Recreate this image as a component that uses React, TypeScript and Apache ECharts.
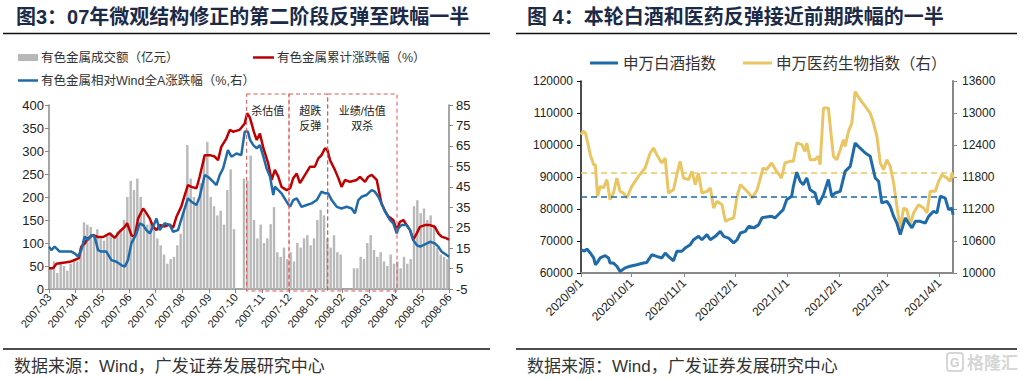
import React, { useEffect, useRef } from 'react';
import * as echarts from 'echarts';

// ---------- Figure 3 data ----------
const monthLabels = ['2007-03','2007-04','2007-05','2007-06','2007-07','2007-08','2007-09','2007-10','2007-11','2007-12','2008-01','2008-02','2008-03','2008-04','2008-05','2008-06'];
const barsPerMonth = 8;
const volume = [
  45, 60, 35, 55, 50, 40, 55, 60,
  60, 90, 145, 140, 135, 120, 130, 110,
  105, 115, 120, 110, 125, 130, 150, 200,
  235, 215, 240, 200, 165, 140, 150, 130,
  110, 95, 75, 55, 65, 70, 95, 120,
  170, 313, 240, 200, 185, 230, 290, 320,
  200, 180, 160, 170, 140, 215, 260, 130,
  0, 0, 240, 235, 290, 150, 110, 140,
  100, 110, 141, 178, 80, 70, 90, 65,
  80, 60, 100, 90, 110, 117, 95, 110,
  150, 172, 160, 110, 90, 117, 80, 75,
  0, 0, 0, 45, 45, 70, 65, 100,
  117, 85, 70, 80, 60, 50, 75, 55,
  60, 45, 70, 55, 65, 180, 193, 165,
  175, 150, 160, 140, 90, 75, 70, 65,
];
const cumReturn = [[0,45],[0.15,45],[0.28,55],[0.53,57],[0.78,59],[0.96,63],[1.12,67],[1.21,92],[1.34,99],[1.46,110],[1.65,117],[1.84,113],[2.03,113],[2.28,121],[2.46,111],[2.65,125],[2.84,135],[2.93,143],[3.09,117],[3.21,113],[3.34,153],[3.53,175],[3.65,165],[3.78,153],[3.9,136],[4.03,128],[4.15,139],[4.34,136],[4.53,140],[4.65,133],[4.78,157],[4.96,179],[5.09,204],[5.21,226],[5.34,222],[5.53,219],[5.65,244],[5.84,291],[6.03,291],[6.21,288],[6.34,280],[6.46,309],[6.65,327],[6.78,346],[6.9,342],[7.15,346],[7.34,360],[7.43,382],[7.53,373],[7.62,355],[7.68,342],[7.79,324],[7.91,338],[8.04,306],[8.22,273],[8.35,237],[8.47,259],[8.6,244],[8.72,222],[8.91,215],[9.04,219],[9.16,241],[9.29,251],[9.41,230],[9.6,248],[9.79,266],[9.97,266],[10.1,284],[10.22,291],[10.35,306],[10.44,302],[10.54,280],[10.72,259],[10.85,241],[10.97,222],[11.1,237],[11.29,233],[11.54,237],[11.66,244],[11.85,233],[11.97,244],[12.1,248],[12.29,237],[12.47,185],[12.6,170],[12.72,158],[12.91,150],[13.04,128],[13.16,146],[13.29,150],[13.41,139],[13.54,128],[13.66,107],[13.79,121],[13.91,135],[14.1,139],[14.29,139],[14.47,135],[14.6,121],[14.72,114],[14.91,110],[15,107]];
const relReturn = [[0,15.7],[0.09,14],[0.21,15.7],[0.28,14.9],[0.4,13.3],[0.65,13.3],[0.84,13.3],[0.96,12.4],[1.09,10.8],[1.21,14],[1.34,20.6],[1.46,18.9],[1.59,21.4],[1.71,20.6],[1.84,14],[1.96,13.3],[2.15,13.3],[2.34,9.1],[2.53,8.3],[2.71,6.7],[2.84,5.9],[2.96,9.1],[3.09,17.3],[3.28,22.2],[3.4,27.1],[3.53,26.3],[3.65,23.8],[3.78,22.2],[3.9,25.5],[4.03,29.5],[4.15,23.8],[4.34,27.1],[4.53,26.3],[4.65,23],[4.84,23.8],[5.03,32],[5.21,39.3],[5.34,37.7],[5.53,36.1],[5.65,40.1],[5.84,50.7],[5.96,49.9],[6.15,47.5],[6.28,45.8],[6.4,50.7],[6.53,54],[6.71,63],[6.84,59.7],[7.03,61.3],[7.21,60.5],[7.34,72],[7.46,72],[7.54,67.9],[7.66,65.4],[7.79,63.8],[7.91,65.4],[8.04,59.7],[8.16,54],[8.29,49.9],[8.41,41],[8.47,45],[8.6,43.4],[8.72,41.8],[8.91,37.7],[9.04,35.2],[9.16,38.5],[9.29,39.3],[9.47,35.2],[9.66,36.1],[9.85,36.9],[10.04,38.5],[10.22,42.6],[10.35,41.8],[10.47,41.8],[10.6,38.5],[10.79,35.2],[10.97,34.4],[11.16,35.2],[11.35,34.4],[11.47,32],[11.6,38.5],[11.72,40.1],[11.91,41],[12.1,43.4],[12.22,42.6],[12.35,40.1],[12.47,36.9],[12.6,32.8],[12.79,28.7],[12.91,27.1],[13.04,22.2],[13.1,24.6],[13.22,26.3],[13.41,26.3],[13.54,23.8],[13.66,18.9],[13.79,16.5],[13.91,15.7],[14.04,16.5],[14.29,18.1],[14.47,17.3],[14.6,15.7],[14.72,13.3],[14.91,11.6],[15,10.8]];
const phaseEdges = [7.41, 9.0, 10.45, 13.05];
const phaseNames = [['杀估值'], ['超跌', '反弹'], ['业绩/估值', '双杀']];

// ---------- Figure 4 data ----------
const tickDates = ['2020/9/1','2020/10/1','2020/11/1','2020/12/1','2021/1/1','2021/2/1','2021/3/1','2021/4/1'];
const endDay = 220;
const baijiu = [[0,67300],[2,66800],[3.5,67500],[5.5,66250],[7.5,64700],[8.5,62600],[9.4,63100],[11.3,64700],[14.3,65400],[16.3,64700],[17.2,63100],[19.2,63100],[21.2,62100],[23.1,60500],[26.1,61600],[29,62100],[33,62600],[36.9,63100],[38.9,63300],[41.9,65700],[44.8,65200],[47.8,64700],[49.8,66250],[51.7,65200],[54.7,63800],[56.7,66800],[59.6,66800],[61.6,67800],[64.6,68850],[66.6,70400],[69.5,71450],[71.5,70400],[74.5,72000],[76.5,70400],[79.4,71450],[82.4,73000],[84.4,71450],[87.3,70900],[90.3,69400],[92.3,70400],[94.3,72500],[97.2,73000],[99.2,74600],[102.2,74100],[105.1,75100],[107.1,77300],[109.7,77500],[112.7,77700],[114.7,77200],[117.6,78750],[119.6,79800],[121.6,82900],[124.6,84000],[125.6,87100],[127.6,91500],[129.6,88650],[131.5,87600],[133.5,89700],[135.5,86000],[138.4,85000],[140.4,81350],[143.4,84500],[146.3,89200],[148.3,84000],[150.3,85000],[153.3,85500],[156.2,91770],[159.2,93300],[162.1,100600],[165.1,99000],[168.1,97500],[171,96500],[174,89700],[176,88650],[177.9,81900],[180.9,82400],[182.9,80800],[184.9,77700],[186.8,75600],[188.8,72000],[191.8,77200],[193.7,75600],[195.7,74100],[197.7,76150],[200.6,76150],[203.6,75600],[205.6,77700],[208.5,79300],[210.5,78750],[212.5,84000],[215.4,83400],[217.4,79800],[219.4,80300],[220,78200]];
const yiyao = [[0,12594],[1.2,12656],[2.6,12625],[4,12437],[5.5,12219],[7.5,12031],[8.5,12031],[9.8,11437],[11.3,11625],[13.3,11594],[15.3,11750],[17.2,11375],[19.2,11500],[21.2,11781],[23.1,11531],[25.1,11500],[27.1,11406],[30,11625],[34,11812],[37.9,11969],[40.9,12250],[42.9,12344],[44.8,12219],[47.8,12062],[49.8,12156],[51.7,11500],[54.7,11562],[56.7,11844],[58.6,12094],[60.6,11781],[63.6,11750],[65.6,11906],[67.6,11656],[69.5,11875],[71.5,11500],[74.5,11531],[76.5,11594],[78.4,11219],[80.4,11344],[83.4,11281],[85.4,10969],[87.3,11000],[90.3,11031],[92.3,11437],[94.3,11656],[96.3,11594],[99.2,11500],[101.2,11406],[104.2,11562],[106.1,11781],[107.7,11969],[109.7,11937],[112.7,12062],[115.7,11906],[118.6,11781],[120.6,12062],[123.6,12094],[125.6,12094],[127.6,12437],[130.6,12406],[132.5,12281],[133.5,12437],[135.5,12125],[138.4,12125],[140.4,12187],[141.4,12031],[143.4,13094],[146.3,13094],[147.7,12656],[149.3,12187],[151.3,12125],[153.3,12312],[155.2,12500],[156.2,12375],[158.2,12656],[160.2,12812],[162.1,13400],[165.1,13250],[168.1,13125],[171,13000],[173,12812],[175,12562],[177,12062],[178.9,11937],[180.9,12125],[182.9,12000],[184.9,11687],[186.8,11250],[188.8,10844],[190.8,11219],[192.7,11187],[194.7,10906],[196.7,11125],[199.6,11281],[202.6,11219],[204.6,11125],[206.5,11531],[209.5,11531],[211.5,11719],[213.5,11844],[216.4,11781],[218.4,11719],[219.4,11875],[220,11781]];
const baijiuRef = 83750;
const baijiuRefEndDay = 212;
const yiyaoRef = 11880;

const RED = '#C00000';
const BLUE = '#1F6BAA';
const GOLD = '#E9C663';
const GRAY_BAR = '#B8B8B8';
const AXIS_GRAY = '#888888';
const LATIN = "'Liberation Sans', Arial, sans-serif";
const CJK = "'Liberation Sans', 'Noto Sans CJK SC', sans-serif";

const DAY = 86400000;
const base = Date.UTC(2020, 8, 1);
const dayOf = (s: string) => {
  const [y, m, d] = s.split('/').map(Number);
  return Math.round((Date.UTC(y, m - 1, d) - base) / DAY);
};
const dayTicks = tickDates.map(dayOf);
const fmtDay = (v: number) => {
  const t = new Date(base + Math.round(v) * DAY);
  return `${t.getUTCFullYear()}/${t.getUTCMonth() + 1}/${t.getUTCDate()}`;
};

function txt(x: number, y: number, text: string, size: number, extra: any = {}) {
  return {
    type: 'text', x, y, silent: true,
    style: {
      text, fill: extra.fill || '#222', fontSize: size, fontFamily: extra.family || CJK,
      fontWeight: extra.weight || 'normal', align: extra.align || 'left', verticalAlign: 'middle',
      textAlign: extra.align || 'left', textVerticalAlign: 'middle',
    },
  };
}
function hline(x1: number, y1: number, x2: number, y2: number, stroke: string, lw: number, dash?: number[]) {
  return { type: 'line', silent: true, shape: { x1, y1, x2, y2 }, style: { stroke, lineWidth: lw, lineDash: dash } };
}
const plain = (v: number) => String(v);

export default function App() {
  const ref = useRef<HTMLDivElement>(null);
  useEffect(() => {
    document.body.style.margin = '0';
    const chart = echarts.init(ref.current!, null, { renderer: 'svg' });

    const baseGraphic: any[] = [
      txt(16, 17, '图3：07年微观结构修正的第二阶段反弹至跌幅一半', 20, { weight: 'bold', fill: '#1B2A47' }),
      hline(3, 33.5, 490, 33.5, '#111', 1.5),
      txt(527, 17, '图 4：本轮白酒和医药反弹接近前期跌幅的一半', 20, { weight: 'bold', fill: '#1B2A47' }),
      hline(516, 33.5, 1017, 33.5, '#111', 1.5),
      hline(3, 349, 490, 349, '#111', 1.5),
      hline(516, 349, 1017, 349, '#111', 1.5),
      txt(14, 366, '数据来源：Wind，广发证券发展研究中心', 17, { fill: '#333' }),
      txt(527, 366, '数据来源：Wind，广发证券发展研究中心', 17, { fill: '#333' }),
      // left legends
      { type: 'rect', silent: true, shape: { x: 18, y: 54, width: 20, height: 7 }, style: { fill: GRAY_BAR } },
      txt(41, 57.5, '有色金属成交额（亿元）', 12.5, { fill: '#333' }),
      hline(253, 57.5, 274, 57.5, RED, 2.5),
      txt(277, 57.5, '有色金属累计涨跌幅（%）', 12.5, { fill: '#333' }),
      hline(18, 80.5, 38, 80.5, BLUE, 2.5),
      txt(41, 80.5, '有色金属相对Wind全A涨跌幅（%,右）', 12.5, { fill: '#333' }),
      // right legends
      hline(590, 63, 618, 63, BLUE, 3),
      txt(623, 63, '申万白酒指数', 15.5, { fill: '#333' }),
      hline(743, 63, 772, 63, GOLD, 3),
      txt(776, 63, '申万医药生物指数（右）', 15.5, { fill: '#333' }),
      // watermark
      { type: 'rect', silent: true, shape: { x: 947, y: 353, width: 16, height: 18, r: 3 }, style: { fill: 'none', stroke: '#d6d6d6', lineWidth: 2 } },
      txt(950, 362.5, 'G', 12, { fill: '#d0d0d0', weight: 'bold', family: LATIN }),
      txt(967, 363, '格隆汇', 17, { fill: '#d6d6d6', weight: 'bold' }),
    ];

    const option: any = {
      animation: false,
      backgroundColor: '#fff',
      grid: [
        { left: 49, top: 105, width: 400, height: 184 },
        { left: 581, top: 81, width: 372, height: 192 },
      ],
      xAxis: [
        {
          type: 'value', gridIndex: 0, min: 0, max: monthLabels.length - 1, interval: 1,
          axisLine: { show: true, lineStyle: { color: AXIS_GRAY, width: 1.5 } },
          axisTick: { show: true, length: 4, lineStyle: { color: AXIS_GRAY } },
          axisLabel: { rotate: 50, fontSize: 11, color: '#222', fontFamily: LATIN, margin: 6,
            formatter: (v: number) => monthLabels[Math.round(v)] || '' },
          splitLine: { show: false },
        },
        {
          type: 'value', gridIndex: 1, min: 0, max: endDay,
          axisLine: { show: true, lineStyle: { color: AXIS_GRAY, width: 2 } },
          axisTick: { show: true, length: 4, lineStyle: { color: AXIS_GRAY }, customValues: dayTicks },
          axisLabel: { rotate: 45, fontSize: 12, color: '#222', fontFamily: LATIN, margin: 8,
            customValues: dayTicks, formatter: (v: number) => fmtDay(v) },
          splitLine: { show: false },
        },
      ],
      yAxis: [
        {
          type: 'value', gridIndex: 0, position: 'left', min: 0, max: 400, interval: 50,
          axisLine: { show: true, lineStyle: { color: AXIS_GRAY, width: 1.5 } },
          axisTick: { show: true, length: 4, lineStyle: { color: AXIS_GRAY } },
          axisLabel: { fontSize: 13, color: '#222', fontFamily: LATIN, margin: 5, formatter: plain },
          splitLine: { show: false },
        },
        {
          type: 'value', gridIndex: 0, position: 'right', min: -5, max: 85, interval: 10,
          axisLine: { show: true, lineStyle: { color: AXIS_GRAY, width: 1.5 } },
          axisTick: { show: true, length: 4, lineStyle: { color: AXIS_GRAY } },
          axisLabel: { fontSize: 13, color: '#222', fontFamily: LATIN, margin: 7, formatter: plain },
          splitLine: { show: false },
        },
        {
          type: 'value', gridIndex: 1, position: 'left', min: 60000, max: 120000, interval: 10000,
          axisLine: { show: true, lineStyle: { color: '#111', width: 1.5 } },
          axisTick: { show: true, length: 4, lineStyle: { color: '#111' } },
          axisLabel: { fontSize: 12, color: '#222', fontFamily: LATIN, margin: 8, formatter: plain },
          splitLine: { show: false },
        },
        {
          type: 'value', gridIndex: 1, position: 'right', min: 10000, max: 13600, interval: 600,
          axisLine: { show: true, lineStyle: { color: AXIS_GRAY, width: 2 } },
          axisTick: { show: true, length: 4, lineStyle: { color: AXIS_GRAY } },
          axisLabel: { fontSize: 12, color: '#222', fontFamily: LATIN, margin: 9, formatter: plain },
          splitLine: { show: false },
        },
      ],
      series: [
        {
          name: '有色金属成交额（亿元）', type: 'bar', xAxisIndex: 0, yAxisIndex: 0, barWidth: 2.4,
          itemStyle: { color: GRAY_BAR },
          data: volume.map((v, i) => [(i + 0.5) / barsPerMonth, v]),
        },
        {
          name: '有色金属累计涨跌幅（%）', type: 'line', xAxisIndex: 0, yAxisIndex: 0, symbol: 'none',
          lineStyle: { color: RED, width: 2.5 }, data: cumReturn, z: 4,
        },
        {
          name: '有色金属相对Wind全A涨跌幅（%,右）', type: 'line', xAxisIndex: 0, yAxisIndex: 1, symbol: 'none',
          lineStyle: { color: BLUE, width: 2.5 }, data: relReturn, z: 5,
        },
        {
          name: '申万白酒指数', type: 'line', xAxisIndex: 1, yAxisIndex: 2, symbol: 'none',
          lineStyle: { color: BLUE, width: 3 }, data: baijiu, z: 5,
          markLine: {
            silent: true, symbol: 'none', label: { show: false },
            lineStyle: { color: BLUE, width: 1.5, type: [6, 4] },
            data: [[{ coord: [0, baijiuRef] }, { coord: [baijiuRefEndDay, baijiuRef] }]],
          },
        },
        {
          name: '申万医药生物指数（右）', type: 'line', xAxisIndex: 1, yAxisIndex: 3, symbol: 'none',
          lineStyle: { color: GOLD, width: 3 }, data: yiyao, z: 4,
          markLine: {
            silent: true, symbol: 'none', label: { show: false },
            lineStyle: { color: GOLD, width: 1.5, type: [6, 4] },
            data: [{ yAxis: yiyaoRef }],
          },
        },
      ],
      graphic: baseGraphic,
    };
    chart.setOption(option);

    const px = (m: number) => chart.convertToPixel({ xAxisIndex: 0 }, m) as number;
    const bottom = (chart.convertToPixel({ yAxisIndex: 0 }, 0) as number) + 2;
    const top = 94;
    const boxes: any[] = [];
    for (let i = 0; i < phaseNames.length; i++) {
      const x1 = px(phaseEdges[i]);
      const x2 = px(phaseEdges[i + 1]);
      boxes.push({
        type: 'rect', silent: true, z: 10,
        shape: { x: x1, y: top, width: x2 - x1, height: bottom - top },
        style: { fill: 'none', stroke: '#E05555', lineWidth: 1, lineDash: [4, 3] },
      });
      phaseNames[i].forEach((t, j) => {
        const tt: any = txt((x1 + x2) / 2 + (i === 1 ? 2 : 0), 111 + j * 15, t, 11, { align: 'center', fill: '#222' });
        tt.z = 10;
        boxes.push(tt);
      });
    }
    chart.setOption({ graphic: [...baseGraphic, ...boxes] });

    return () => chart.dispose();
  }, []);
  return <div ref={ref} style={{ position: 'absolute', left: 0, top: 0, width: 1023, height: 379, background: '#fff' }} />;
}
